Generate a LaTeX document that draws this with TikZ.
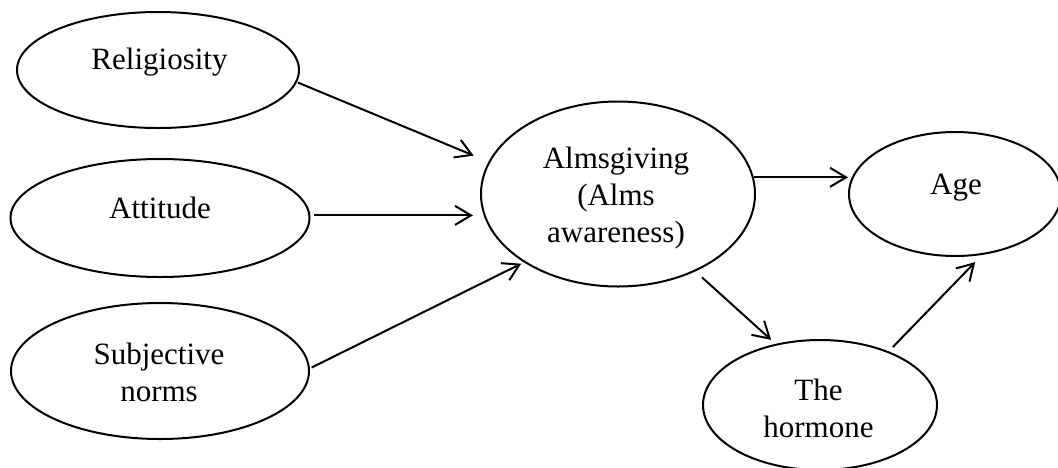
\documentclass[tikz,border=0pt]{standalone}
\usepackage{fontspec}
\setmainfont{Liberation Serif}
\usetikzlibrary{shapes.geometric,arrows.meta}
\begin{document}
\begin{tikzpicture}[x=1pt,y=-1pt,
  ell/.style={draw,ellipse,line width=2pt,inner sep=0pt},
  lbl/.style={inner sep=0pt,align=center,font=\fontsize{31}{37}\selectfont},
  arr/.style={line width=2pt,-{Straight Barb[length=16pt,width=19pt]}}]
\useasboundingbox (0,0) rectangle (1058,467);
% ellipses
\node[ell,minimum width=282pt,minimum height=116pt] (rel) at (158,70) {};
\node[ell,minimum width=299pt,minimum height=118pt] (att) at (160,218) {};
\node[ell,minimum width=298pt,minimum height=136pt] (sub) at (160,371) {};
\node[ell,minimum width=274pt,minimum height=185pt] (alm) at (618,194) {};
\node[ell,minimum width=212pt,minimum height=124pt] (age) at (955,194) {};
\node[ell,minimum width=234pt,minimum height=130pt] (hor) at (820,405) {};
% labels
\node[lbl] (trel) at (159.5,62.5) {Religiosity};
\node[lbl] (tatt) at (160,207.4) {Attitude};
\node[lbl] (tsub) at (159,372) {Subjective\\norms};
\node[lbl] (talm) at (616,197.7) {Almsgiving\\(Alms\\awareness)};
\node[lbl] (tage) at (956,188) {Age};
\node[lbl] (thor) at (818.5,408.4) {The\\hormone};
% connectors
\draw[arr,shorten <=1pt,shorten >=16pt] (rel.-5) -- (alm.166);
\draw[arr,shorten <=4pt,shorten >=7pt] (att.1.5) -- (att.1.5 -| alm.west);
\draw[arr,shorten <=2pt,shorten >=3pt] (sub.1) -- (alm.216);
\draw[arr] (alm.7) -- (alm.7 -| age.west);
\draw[arr,shorten <=9pt,shorten >=6pt] (alm.-45) -- (hor.126);
\draw[arr,shorten <=6pt,shorten >=10pt] (hor.38) -- (age.-66);
\end{tikzpicture}
\end{document}
